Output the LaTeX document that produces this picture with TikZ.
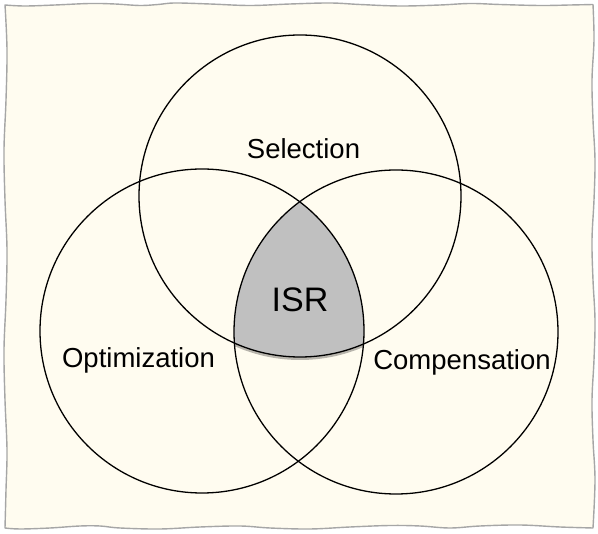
\documentclass[tikz,border=0pt]{standalone}
\usepackage{fontspec}
\setmainfont{Liberation Sans}
\definecolor{paper}{HTML}{FFFCF0}
\definecolor{edgegray}{HTML}{A6A6A6}
\definecolor{isrgray}{HTML}{C0C0C0}
\begin{document}
\begin{tikzpicture}[x=1pt,y=-1pt,
  venn/.style={draw=black, line width=1.3pt},
  lbl/.style={font=\fontsize{27.5}{30}\selectfont, anchor=base, inner sep=0pt},
  isrlbl/.style={font=\fontsize{34}{36}\selectfont, anchor=base, inner sep=0pt},
]
\useasboundingbox (0,0) rectangle (598,534);
% wavy paper background
\draw[edgegray, line width=1.4pt, fill=paper, line join=round]
  plot[smooth, tension=0.6] coordinates {(5,5) (25,6) (55,5) (90,3.5) (115,4) (140,5.5) (158,4.5) (175,3) (210,4) (250,5.5) (290,4) (330,3) (360,4.5) (400,6) (440,5) (470,3.5) (500,4.5) (540,5.5) (570,5) (593,4.5)}
  -- plot[smooth, tension=0.6] coordinates {(593,4.5) (594,40) (592,80) (593,120) (595,160) (594,200) (592,240) (593,280) (595,320) (594,360) (592,400) (593,440) (595,480) (593,528)}
  -- plot[smooth, tension=0.6] coordinates {(593,528) (560,527) (520,525) (480,526) (450,528) (420,526) (390,525.5) (350,527) (310,529) (270,528) (240,526) (200,527) (160,529) (120,528) (100,526) (80,526) (50,528) (20,529) (5,528)}
  -- plot[smooth, tension=0.6] coordinates {(5,528) (6,490) (7,450) (5,400) (4,350) (6,300) (7,250) (5,200) (4,150) (6,100) (7,50) (5,5)}
  -- cycle;
% shadow of ISR region
\begin{scope}[yshift=-3pt]
  \clip (300,196) circle (161);
  \clip (202,331) circle (162);
  \fill[black, opacity=0.28] (396,332) circle (162);
\end{scope}
% ISR region
\begin{scope}
  \clip (300,196) circle (161);
  \clip (202,331) circle (162);
  \fill[isrgray] (396,332) circle (162);
\end{scope}
% circles
\draw[venn] (300,196) circle (161);
\draw[venn] (202,331) circle (162);
\draw[venn] (396,332) circle (162);
% labels
\node[lbl] (sel) at (303.5,158.3) {Selection};
\node[lbl] (opt) at (138.5,368) {Optimization};
\node[lbl] (comp) at (462,370) {Compensation};
\node[isrlbl] (isr) at (300,311.7) {ISR};
\end{tikzpicture}
\end{document}
